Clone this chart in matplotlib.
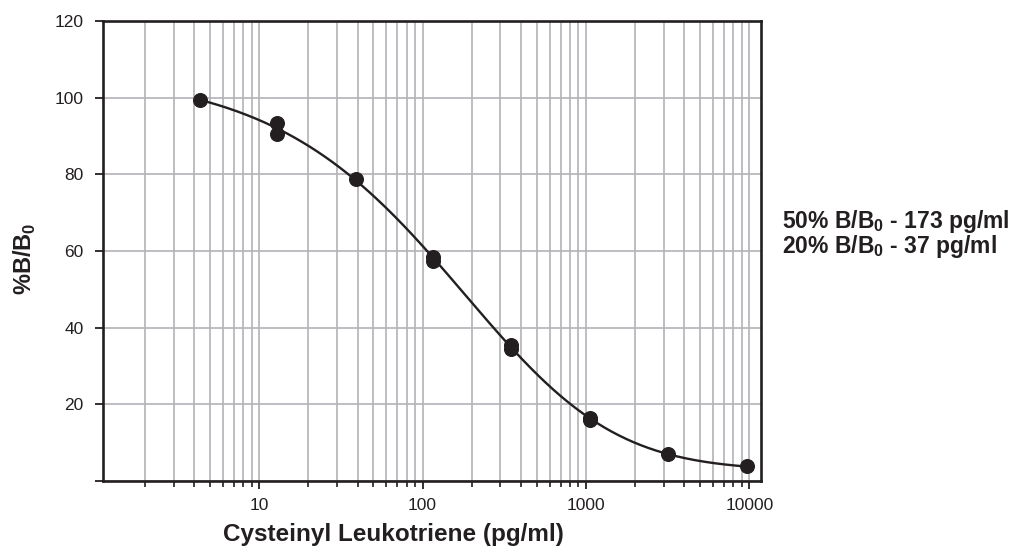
import numpy as np
import matplotlib
matplotlib.use("Agg")
import matplotlib.pyplot as plt
from matplotlib.ticker import LogLocator, NullFormatter, FixedLocator, FuncFormatter

# ---- data ----
conc = [4.36, 12.9, 12.9, 39.0, 116, 116, 350, 350, 1060, 1060, 3200, 9700]
pct_b_b0 = [99.4, 93.3, 90.5, 78.9, 58.4, 57.5, 35.5, 34.5, 16.5, 15.9, 7.0, 3.8]
y_ticks = [0, 20, 40, 60, 80, 100, 120]
y_tick_labels = ["", "20", "40", "60", "80", "100", "120"]
x_ticks = [10, 100, 1000, 10000]
x_tick_labels = ["10", "100", "1000", "10000"]
notes = [r"50% B/B$_\mathbf{0}$ - 173 pg/ml", r"20% B/B$_\mathbf{0}$ - 37 pg/ml"]

plt.rcParams['font.family'] = ['Liberation Sans', 'DejaVu Sans']
plt.rcParams['mathtext.fontset'] = 'custom'
plt.rcParams['mathtext.rm'] = 'Liberation Sans'
plt.rcParams['mathtext.bf'] = 'Liberation Sans:bold'

DARK = '#231f20'
GRID = '#b3b3b7'

x = np.array(conc, float)
y = np.array(pct_b_b0, float)

# logistic (5PL) least-squares fit of the standard curve
def model(p, xx):
    a, d, b, lc, lg = p
    return d + (a - d) / (1 + (xx / np.exp(lc)) ** b) ** np.exp(lg)

def sse(p):
    r = y - model(p, x)
    return r @ r

p = np.array([102.0, 2.0, 0.96, np.log(153.0), 0.0])
lam = 1e-2
for _ in range(400):
    r = y - model(p, x)
    J = np.empty((len(x), 5))
    for k in range(5):
        h = 1e-6 * max(1.0, abs(p[k]))
        dp = np.zeros(5); dp[k] = h
        J[:, k] = (model(p + dp, x) - model(p - dp, x)) / (2 * h)
    A = J.T @ J
    g = J.T @ r
    try:
        step = np.linalg.solve(A + lam * np.diag(np.diag(A) + 1e-12), g)
    except np.linalg.LinAlgError:
        lam *= 10
        continue
    pn = p + step
    if np.all(np.isfinite(pn)) and np.isfinite(sse(pn)) and sse(pn) < sse(p):
        p = pn
        lam *= 0.3
    else:
        lam *= 10

xs = np.logspace(np.log10(x.min()), np.log10(x.max()), 300)
ys = model(p, xs)

W, H = 1020, 548
fig = plt.figure(figsize=(W / 100, H / 100), dpi=100)
L, R, T, B = 103.3, 761, 21, 481
ax = fig.add_axes([L / W, 1 - B / H, (R - L) / W, (B - T) / H])

ax.set_xscale('log')
ax.set_xlim(1.112, 11790)
ax.set_ylim(0, 120)

ax.xaxis.set_major_locator(FixedLocator(x_ticks))
ax.xaxis.set_major_formatter(FuncFormatter(lambda v, pos: x_tick_labels[x_ticks.index(int(round(v)))] if int(round(v)) in x_ticks else ""))
ax.xaxis.set_minor_locator(LogLocator(base=10, subs=np.arange(2, 10)))
ax.xaxis.set_minor_formatter(NullFormatter())
ax.set_yticks(y_ticks)
ax.set_yticklabels(y_tick_labels)

ax.grid(True, which='both', axis='x', color=GRID, lw=1.2, zorder=0)
ax.grid(True, which='major', axis='y', color=GRID, lw=1.2, zorder=0)
ax.set_axisbelow(True)

for s in ax.spines.values():
    s.set_color(DARK)
    s.set_linewidth(1.9)

ax.tick_params(axis='both', which='major', direction='out', length=6, width=1.3,
               color=DARK, labelsize=12.5, labelcolor=DARK)
ax.tick_params(axis='x', which='major', pad=6)
ax.tick_params(axis='y', which='major', pad=8)
ax.tick_params(axis='x', which='minor', direction='out', length=4.5, width=1.2, color=DARK)

ax.plot(xs, ys, color=DARK, lw=1.7, zorder=3)
ax.plot(x, y, 'o', color=DARK, ms=9.8, mec=DARK, zorder=4)

fig.text(393 / W, 1 - 535 / H, "Cysteinyl Leukotriene (pg/ml)", ha='center', va='center',
         fontsize=17.5, fontweight='bold', color=DARK)
fig.text(25 / W, 1 - 259 / H, r"%B/B$_\mathbf{0}$", ha='center', va='center', rotation=90,
         fontsize=17, fontweight='bold', color=DARK)
fig.text(781.7 / W, 1 - 228.3 / H, notes[0], ha='left', va='baseline',
         fontsize=16.5, fontweight='bold', color=DARK)
fig.text(781.7 / W, 1 - 253.3 / H, notes[1], ha='left', va='baseline',
         fontsize=16.5, fontweight='bold', color=DARK)

fig.savefig('out.png', dpi=100)
